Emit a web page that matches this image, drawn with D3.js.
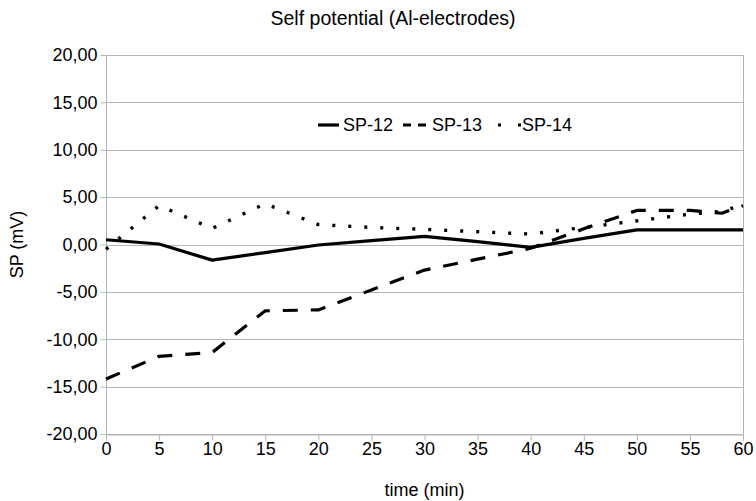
<!DOCTYPE html>
<html>
<head>
<meta charset="utf-8">
<script src="https://cdn.jsdelivr.net/npm/d3@7"></script>
<style>
  html, body { margin: 0; padding: 0; background: #fff; }
  svg { display: block; font-family: "Liberation Sans", Arial, Helvetica, sans-serif; }
</style>
</head>
<body>
<svg id="chart" width="756" height="501"></svg>
<script>
// ---- data ----
const times = [0, 5, 10, 15, 20, 25, 30, 35, 40, 45, 50, 55, 58, 60];
const sp12  = [0.5, 0.05, -1.65, -0.85, -0.05, 0.4, 0.85, 0.3, -0.3, 0.65, 1.55, 1.55, 1.55, 1.55];
const sp13  = [-14.2, -11.8, -11.4, -7.0, -6.9, -4.8, -2.7, -1.55, -0.4, 1.65, 3.6, 3.6, 3.3, 4.1];
const sp14  = [-0.5, 4.1, 1.7, 4.3, 2.1, 1.8, 1.6, 1.35, 1.1, 1.8, 2.5, 3.2, 3.5, 4.2];
const seriesNames = ["SP-12", "SP-13", "SP-14"];
const xTicks = [0, 5, 10, 15, 20, 25, 30, 35, 40, 45, 50, 55, 60];
const yTicks = [-20, -15, -10, -5, 0, 5, 10, 15, 20];
const titleText = "Self potential (Al-electrodes)";
const xTitle = "time (min)";
const yTitle = "SP (mV)";

// ---- layout ----
const W = 756, H = 501;
const m = { left: 106, right: 13, top: 55, bottom: 67 };
const svg = d3.select("#chart");
const x = d3.scaleLinear().domain([0, 60]).range([m.left, W - m.right]);
const y = d3.scaleLinear().domain([-20, 20]).range([H - m.bottom, m.top]);
const grid = "#b4b4b4";
const fmt = v => d3.format(".2f")(v).replace(".", ",").replace("\u2212", "-");

// gridlines
svg.append("g").selectAll("line").data(yTicks).join("line")
  .attr("x1", x(0)).attr("x2", x(60))
  .attr("y1", d => Math.round(y(d)) + 0.5).attr("y2", d => Math.round(y(d)) + 0.5)
  .attr("stroke", grid).attr("stroke-width", 1);
// right border
svg.append("line")
  .attr("x1", Math.round(x(60)) + 0.5).attr("x2", Math.round(x(60)) + 0.5)
  .attr("y1", y(20)).attr("y2", y(-20)).attr("stroke", grid);

// axes
const yAxis = d3.axisLeft(y).tickValues(yTicks).tickFormat(fmt).tickSize(6).tickPadding(3);
const gy = svg.append("g").attr("transform", `translate(${Math.round(x(0)) + 0.5},0)`).call(yAxis);
const xAxis = d3.axisBottom(x).tickValues(xTicks).tickFormat(d3.format("d")).tickSize(6).tickPadding(2);
const gx = svg.append("g").attr("transform", `translate(0,${Math.round(y(-20)) + 0.5})`).call(xAxis);
[gx, gy].forEach(g => {
  g.select(".domain").attr("stroke", grid);
  g.selectAll(".tick line").attr("stroke", grid);
  g.selectAll(".tick text").attr("fill", "#000").style("font-size", "18px")
    .style("font-family", '"Liberation Sans", Arial, sans-serif');
});
gy.select(".domain").attr("d", `M0,${y(-20)}V${y(20)}`);

// series
const line = d3.line().x(d => x(d[0])).y(d => y(d[1]));
const styles = [
  { dash: null, width: 3.2 },
  { dash: "15,13", width: 3.2 },
  { dash: "3,13", width: 3.4 }
];
const data = [sp12, sp13, sp14].map(vals => times.map((t, i) => [t, vals[i]]));
data.forEach((pts, i) => {
  svg.append("path").datum(pts)
    .attr("d", line)
    .attr("fill", "none").attr("stroke", "#000")
    .attr("stroke-width", styles[i].width)
    .attr("stroke-dasharray", styles[i].dash)
    .attr("stroke-linejoin", "round");
});

// legend
const legY = 125;
const legendItems = [
  { x1: 318, x2: 339, dash: null, tx: 343 },
  { x1: 403, x2: 426, dash: "8,7", tx: 432 },
  { x1: 498, x2: 521, dash: "3,17", tx: 522 }
];
legendItems.forEach((it, i) => {
  svg.append("line").attr("x1", it.x1).attr("x2", it.x2).attr("y1", legY).attr("y2", legY)
    .attr("stroke", "#000").attr("stroke-width", 3.2).attr("stroke-dasharray", it.dash);
  svg.append("text").attr("x", it.tx).attr("y", legY).attr("dy", "0.36em")
    .style("font-size", "18px").text(seriesNames[i]);
});

// titles
svg.append("text").attr("x", 393).attr("y", 25).attr("text-anchor", "middle")
  .style("font-size", "19.5px").text(titleText);
svg.append("text").attr("x", (x(0) + x(60)) / 2).attr("y", 496).attr("text-anchor", "middle")
  .style("font-size", "18px").text(xTitle);
svg.append("text").attr("transform", `translate(23,${y(0)}) rotate(-90)`).attr("text-anchor", "middle")
  .style("font-size", "18px").text(yTitle);
</script>
</body>
</html>
